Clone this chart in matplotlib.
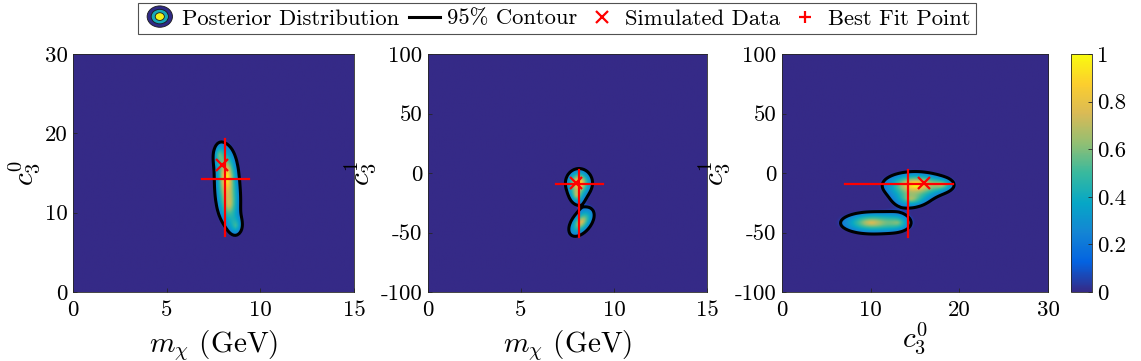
import numpy as np
import matplotlib
matplotlib.use("Agg")
import matplotlib.pyplot as plt
from matplotlib.colors import LinearSegmentedColormap
from matplotlib.legend_handler import HandlerBase
from matplotlib.patches import Ellipse
from matplotlib.lines import Line2D

plt.rcParams['font.family'] = 'serif'
plt.rcParams['font.serif'] = ['cmr10']
plt.rcParams['mathtext.fontset'] = 'cm'
plt.rcParams['axes.unicode_minus'] = False

# ---------------- data ----------------
# axis ranges
m_range = (0, 15)
c0_range = (0, 30)
c1_range = (-100, 100)

# tick labels
m_ticks = [0, 5, 10, 15]
c0_ticks_p1 = [0, 10, 20, 30]
c0_ticks_p3 = [0, 10, 20, 30]
c1_ticks = [-100, -50, 0, 50, 100]
cbar_ticks = [0, 0.2, 0.4, 0.6, 0.8, 1]

# simulated data point (m_chi, c3^0, c3^1)
sim_m, sim_c0, sim_c1 = 7.95, 16.0, -8.0
# best fit point and its interval
best_m, best_c0, best_c1 = 8.1, 14.2, -9.0
best_m_lo, best_m_hi = 6.9, 9.4
best_c0_lo, best_c0_hi = 7.1, 19.3
best_c1_lo, best_c1_hi = -54.0, 2.5

# posterior blobs: (x, y, sx, sy, amp, rho)
post_m_c0 = [
    (8.20, 14.5, 0.45, 2.8, 1.00, 0.0),
    (7.80, 17.3, 0.28, 1.3, 0.40, 0.0),
    (8.35, 11.0, 0.48, 2.2, 0.55, 0.0),
    (8.70, 8.3, 0.35, 1.2, 0.40, 0.0),
]
post_m_c1 = [
    (8.12, -8.0, 0.52, 8.5, 1.00, 0.0),
    (8.00, -19.0, 0.30, 6.0, 0.50, 0.0),
    (8.25, -41.5, 0.55, 9.5, 0.80, 0.5),
]
post_c0_c1 = [
    (15.0, -10.0, 2.6, 8.0, 1.00, 0.0),
    (18.0, -10.0, 1.0, 4.0, 0.40, 0.0),
    (14.5, -22.0, 1.6, 6.0, 0.50, 0.0),
    (10.0, -42.0, 2.8, 7.5, 0.75, 0.0),
    (13.0, -42.0, 1.3, 6.0, 0.35, 0.0),
]

contour_level = 0.2

# parula colormap control points
parula_hex = ['#352a87', '#0363e1', '#1485d4', '#06a7c6', '#38b99e',
              '#92bf73', '#d9ba56', '#fcce2e', '#f9fb0e']
parula = LinearSegmentedColormap.from_list('parula', parula_hex, N=256)


def density(comps, xr, yr, n=160):
    x = np.linspace(xr[0], xr[1], n)
    y = np.linspace(yr[0], yr[1], n)
    X, Y = np.meshgrid(x, y)
    D = np.zeros_like(X)
    for (cx, cy, sx, sy, a, r) in comps:
        u = (X - cx) / sx
        v = (Y - cy) / sy
        q = (u * u - 2 * r * u * v + v * v) / (1 - r * r)
        D += a * np.exp(-np.sqrt(q) ** 1.4)
    D /= D.max()
    return X, Y, D


W, H = 1141, 361
fig = plt.figure(figsize=(W / 100, H / 100), dpi=100)

def fx(px):
    return px / W

def fy(py):
    return 1 - py / H

top_px, bot_px = 54, 292
axes_px = [(73, 354), (428, 707), (782, 1048)]
axs = []
for (l, r) in axes_px:
    ax = fig.add_axes([fx(l), fy(bot_px), (r - l) / W, (bot_px - top_px) / H])
    axs.append(ax)

panels = [
    (post_m_c0, m_range, c0_range, m_ticks, c0_ticks_p1,
     r'$m_\chi$ (GeV)', r'$c_3^0$', (sim_m, sim_c0), (best_m, best_c0),
     (best_m_lo, best_m_hi), (best_c0_lo, best_c0_hi), 6),
    (post_m_c1, m_range, c1_range, m_ticks, c1_ticks,
     r'$m_\chi$ (GeV)', r'$c_3^1$', (sim_m, sim_c1), (best_m, best_c1),
     (best_m_lo, best_m_hi), (best_c1_lo, best_c1_hi), 6),
    (post_c0_c1, c0_range, c1_range, c0_ticks_p3, c1_ticks,
     r'$c_3^0$', r'$c_3^1$', (sim_c0, sim_c1), (best_c0, best_c1),
     (best_c0_lo, best_c0_hi), (best_c1_lo, best_c1_hi), 0),
]

tick_fs = 16.5
label_fs = 21
im = None
for ax, (comps, xr, yr, xt, yt, xl, yl, sim, best, bxr, byr, lpad) in zip(axs, panels):
    X, Y, D = density(comps, xr, yr)
    V = np.where(D >= contour_level, D, D * (D / contour_level) ** 10)
    im = ax.imshow(V, origin='lower', extent=[xr[0], xr[1], yr[0], yr[1]],
                   aspect='auto', cmap=parula, vmin=0, vmax=1,
                   interpolation='bilinear')
    ax.contour(X, Y, D, levels=[contour_level], colors='k', linewidths=2.2)
    ax.plot([bxr[0], bxr[1]], [best[1], best[1]], color='#ff0000', lw=1.6)
    ax.plot([best[0], best[0]], [byr[0], byr[1]], color='#ff0000', lw=1.6)
    ax.plot([sim[0]], [sim[1]], marker='x', color='#ff0000', ms=8, mew=1.6,
            linestyle='none')
    ax.set_xlim(xr)
    ax.set_ylim(yr)
    ax.set_xticks(xt)
    ax.set_xticklabels([str(t) for t in xt])
    ax.set_yticks(yt)
    ax.set_yticklabels([str(t) for t in yt])
    ax.tick_params(direction='in', length=3, width=0.6, labelsize=tick_fs,
                   color='#262626')
    ax.tick_params(axis='x', pad=6)
    ax.tick_params(axis='y', pad=4)
    for s in ax.spines.values():
        s.set_color('#262626')
        s.set_linewidth(0.6)
    ax.set_xlabel(xl, fontsize=label_fs, labelpad=lpad)
    ax.set_ylabel(yl, fontsize=label_fs, labelpad=2)

cax = fig.add_axes([fx(1071), fy(bot_px), 21 / W, (bot_px - top_px) / H])
cb = fig.colorbar(im, cax=cax, ticks=cbar_ticks)
cb.ax.set_yticklabels(['0', '0.2', '0.4', '0.6', '0.8', '1'])
cb.ax.tick_params(direction='in', length=3, width=0.6, labelsize=tick_fs,
                  color='#262626')
cb.outline.set_edgecolor('#262626')
cb.outline.set_linewidth(0.6)


class PostHandler(HandlerBase):
    def create_artists(self, legend, orig_handle, xdescent, ydescent,
                       width, height, fontsize, trans):
        cx = width / 2 - xdescent
        cy = height / 2 - ydescent
        w = height * 1.6
        arts = []
        for scale, col in [(1.0, '#2f2a85'), (0.68, '#17a9b8'), (0.36, '#f2f21a')]:
            e = Ellipse((cx, cy), w * scale, height * 1.35 * scale,
                        facecolor=col, edgecolor='#1a1a1a', lw=0.6,
                        transform=trans)
            arts.append(e)
        return arts


post_handle = Ellipse((0, 0), 1, 1)
line_handle = Line2D([], [], color='k', lw=2.2)
sim_handle = Line2D([], [], color='#ff0000', marker='x', ls='none', ms=8, mew=1.6)
best_handle = Line2D([], [], color='#ff0000', marker='+', ls='none', ms=9, mew=1.6)

leg = fig.legend([post_handle, line_handle, sim_handle, best_handle],
                 ['Posterior Distribution', '95% Contour', 'Simulated Data',
                  'Best Fit Point'],
                 handler_map={Ellipse: PostHandler()},
                 loc='upper center', bbox_to_anchor=(fx(557), fy(3)),
                 ncol=4, fontsize=16.3, frameon=True, fancybox=False,
                 handlelength=1.4, handletextpad=0.3, columnspacing=0.4,
                 borderpad=0.25, borderaxespad=0)
leg.get_frame().set_edgecolor('#262626')
leg.get_frame().set_linewidth(0.8)

fig.savefig('out.png', dpi=100)
